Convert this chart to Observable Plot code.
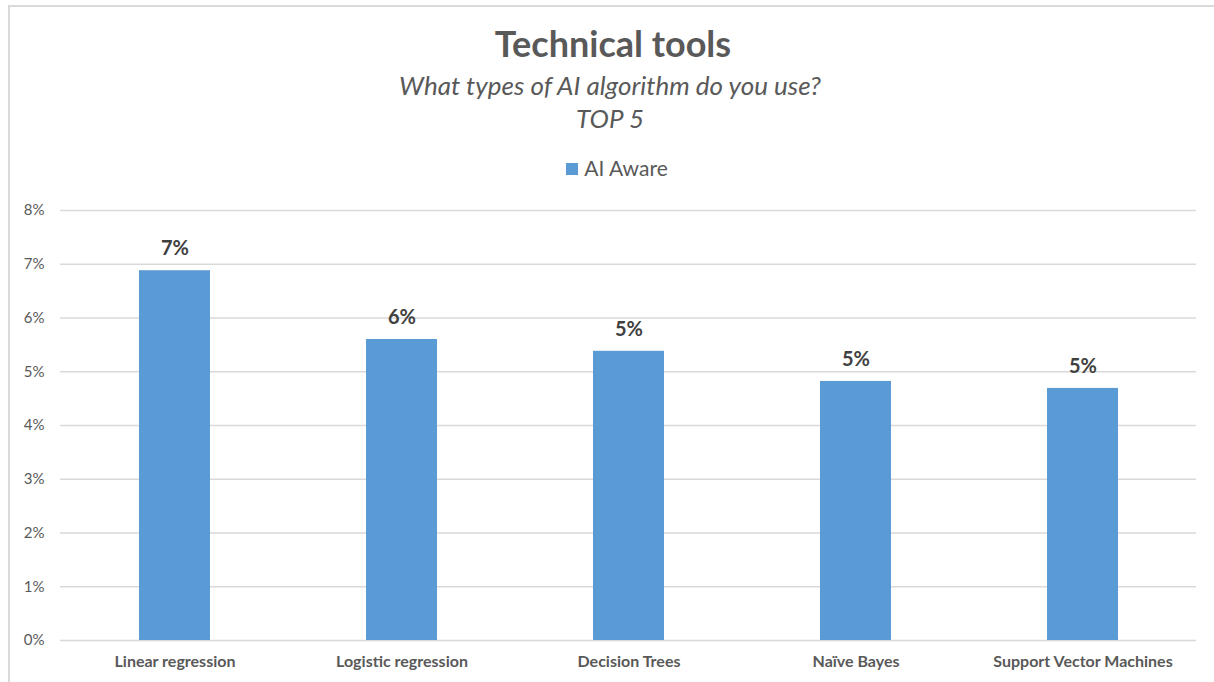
<!DOCTYPE html>
<html>
<head>
<meta charset="utf-8">
<script src="https://cdn.jsdelivr.net/npm/d3@7"></script>
<script src="https://cdn.jsdelivr.net/npm/@observablehq/plot@0.6"></script>
<style>
  html, body { margin: 0; padding: 0; background: #fff; width: 1214px; height: 682px; overflow: hidden; }
  body { font-family: Lato, "Open Sans", sans-serif; position: relative; }
  #frame { position: absolute; left: 8px; top: 5px; width: 1210px; height: 700px; border: 2px solid #d9d9d9; box-sizing: border-box; }
  #title { position: absolute; left: 0; width: 1226px; top: 21px; text-align: center; font-size: 36px; font-weight: bold; color: #595959; line-height: 44px; }
  #sub { position: absolute; left: 0; width: 1220px; top: 69px; text-align: center; font-size: 26px; font-style: italic; color: #595959; line-height: 33px; }
  #legend { position: absolute; left: 0; width: 1234px; top: 155px; text-align: center; font-size: 21px; color: #595959; line-height: 26px; }
  #legend .sw { display: inline-block; width: 12px; height: 12px; background: #5b9bd5; margin-right: 6px; vertical-align: 1px; }
  #chart { position: absolute; left: 0; top: 190px; }
</style>
</head>
<body>
<div id="frame"></div>
<div id="title">Technical tools</div>
<div id="sub">What types of AI algorithm do you use?<br>TOP 5</div>
<div id="legend"><span class="sw"></span>AI Aware</div>
<div id="chart"></div>
<script>
const categories = ["Linear regression", "Logistic regression", "Decision Trees", "Naïve Bayes", "Support Vector Machines"];
const aiAware = [0.0688, 0.0560, 0.0538, 0.0482, 0.0469];
const yTicks = [0, 0.01, 0.02, 0.03, 0.04, 0.05, 0.06, 0.07, 0.08];
const seriesName = "AI Aware";

const data = categories.map((c, i) => ({category: c, value: aiAware[i], series: seriesName}));

const chart = Plot.plot({
  width: 1214,
  height: 492,
  marginLeft: 60,
  marginRight: 18,
  marginTop: 20,
  marginBottom: 42,
  style: {fontFamily: "Lato, 'Open Sans', sans-serif", background: "transparent"},
  x: {domain: categories, paddingInner: 0.6875, paddingOuter: 0.34375, label: null},
  y: {domain: [0, 0.08], label: null},
  marks: [
    Plot.gridY(yTicks, {stroke: "#d9d9d9", strokeOpacity: 1, strokeWidth: 1.3}),
    Plot.barY(data, {x: "category", y: "value", fill: "#5b9bd5"}),
    Plot.text(data, {x: "category", y: "value", text: d => Math.round(d.value * 100) + "%", dy: -22, fontSize: 20, fontWeight: "bold", fill: "#404040"}),
    Plot.axisY(yTicks, {tickSize: 0, tickPadding: 16, tickFormat: d => Math.round(d * 100) + "%", fontSize: 15, fill: "#595959", label: null}),
    Plot.axisX({tickSize: 0, tickPadding: 15, fontSize: 16, fontWeight: "bold", fill: "#595959", label: null})
  ]
});
document.getElementById("chart").appendChild(chart);
</script>
</body>
</html>
